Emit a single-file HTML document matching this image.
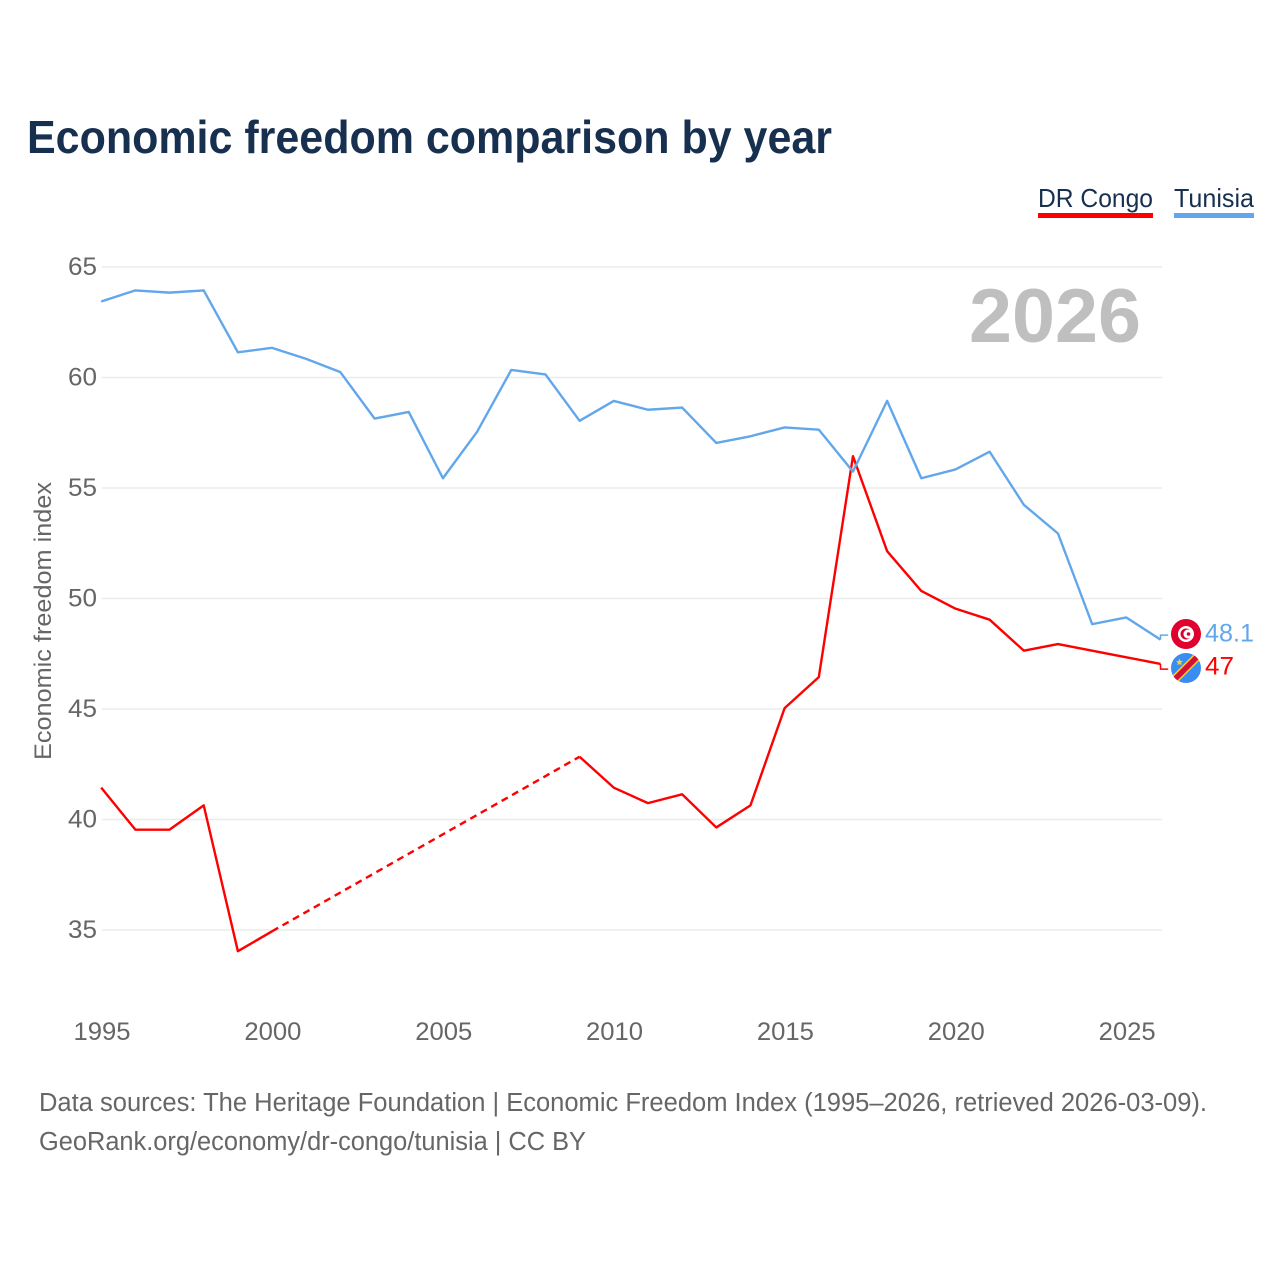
<!DOCTYPE html>
<html>
<head>
<meta charset="utf-8">
<style>
html,body{margin:0;padding:0;background:#fff;width:1280px;height:1280px;overflow:hidden}
svg{display:block}
text{font-family:"Liberation Sans",sans-serif}
</style>
</head>
<body>
<svg id="chart" width="1280" height="1280" viewBox="0 0 1280 1280" xmlns="http://www.w3.org/2000/svg">
  <rect width="1280" height="1280" fill="#fff"/>
  <text x="27" y="153" font-size="46" font-weight="700" fill="#18304f" textLength="805" lengthAdjust="spacingAndGlyphs">Economic freedom comparison by year</text>
  <g>
    <text x="1038" y="207" font-size="26" fill="#18304f" textLength="115" lengthAdjust="spacingAndGlyphs">DR Congo</text>
    <rect x="1038" y="213" width="115" height="5" fill="#ff0000"/>
  </g>
  <g>
    <text x="1174" y="207" font-size="26" fill="#18304f" textLength="80" lengthAdjust="spacingAndGlyphs">Tunisia</text>
    <rect x="1174" y="213" width="80" height="5" fill="#62a6ec"/>
  </g>
  <text x="1141" y="342" text-anchor="end" font-size="76" font-weight="700" fill="#bfbfbf" textLength="172" lengthAdjust="spacingAndGlyphs">2026</text>
  <text transform="translate(51,621) rotate(-90)" text-anchor="middle" font-size="24.5" fill="#666" textLength="278" lengthAdjust="spacingAndGlyphs">Economic freedom index</text>
  <g id="grid"></g>
  <g id="yticks"></g>
  <g id="xticks"></g>
  <g id="series" transform="translate(-0.8,-0.9)"></g>
  <g>
    <circle cx="1186" cy="634" r="15" fill="#e0002d"/>
    <circle cx="1186" cy="634" r="8" fill="#fff"/>
    <circle cx="1186" cy="634" r="5.5" fill="#e0002d"/>
    <circle cx="1188" cy="634" r="4.5" fill="#fff"/>
    <circle cx="1188.5" cy="634" r="1.8" fill="#e0002d"/>
  </g>
  <g>
    <defs><clipPath id="cdclip"><circle cx="1186" cy="668" r="15"/></clipPath></defs>
    <circle cx="1186" cy="668" r="15" fill="#3a8cf0"/>
    <g clip-path="url(#cdclip)">
      <line x1="1166" y1="688" x2="1206" y2="648" stroke="#f5d130" stroke-width="8.5"/>
      <line x1="1166" y1="688" x2="1206" y2="648" stroke="#d21034" stroke-width="5.5"/>
    </g>
    <polygon points="1179.5,658.5 1180.5,660.9 1183,661.1 1181.1,662.8 1181.7,665.3 1179.5,664 1177.3,665.3 1177.9,662.8 1176,661.1 1178.5,660.9" fill="#f5d130"/>
  </g>
  <text x="1205" y="641.5" font-size="25" fill="#62a6ec" textLength="49" lengthAdjust="spacingAndGlyphs">48.1</text>
  <text x="1205" y="674.5" font-size="25" fill="#ff0000" textLength="29" lengthAdjust="spacingAndGlyphs">47</text>
  <text x="39" y="1111" font-size="25.5" fill="#666" textLength="1168" lengthAdjust="spacingAndGlyphs">Data sources: The Heritage Foundation | Economic Freedom Index (1995–2026, retrieved 2026-03-09).</text>
  <text x="39" y="1150" font-size="25.5" fill="#666" textLength="547" lengthAdjust="spacingAndGlyphs">GeoRank.org/economy/dr-congo/tunisia | CC BY</text>
</svg>
<script>
const years = [1995,1996,1997,1998,1999,2000,2001,2002,2003,2004,2005,2006,2007,2008,2009,2010,2011,2012,2013,2014,2015,2016,2017,2018,2019,2020,2021,2022,2023,2024,2025,2026];
const tunisiaValues = [63.4,63.9,63.8,63.9,61.1,61.3,60.8,60.2,58.1,58.4,55.4,57.5,60.3,60.1,58.0,58.9,58.5,58.6,57.0,57.3,57.7,57.6,55.7,58.9,55.4,55.8,56.6,54.2,52.9,48.8,49.1,48.1];
const drCongoValues = [41.4,39.5,39.5,40.6,34.0,34.9,null,null,null,null,null,null,null,null,42.8,41.4,40.7,41.1,39.6,40.6,45.0,46.4,56.4,52.1,50.3,49.5,49.0,47.6,47.9,47.6,47.3,47.0];
const yTickLabels = [35,40,45,50,55,60,65];
const xTickLabels = [1995,2000,2005,2010,2015,2020,2025];

const NS = 'http://www.w3.org/2000/svg';
function xScale(year){ return 102 + (year - 1995) * (1161.3 - 102) / 31; }
function yScale(v){ return 267 + (65 - v) * (930 - 267) / 30; }
function make(tag, attrs, parent){
  const el = document.createElementNS(NS, tag);
  for (const k in attrs) el.setAttribute(k, attrs[k]);
  parent.appendChild(el);
  return el;
}
const grid = document.getElementById('grid');
const yticks = document.getElementById('yticks');
const xticks = document.getElementById('xticks');
const series = document.getElementById('series');

yTickLabels.forEach(function(t){
  const line = make('line', {x1:102, x2:1162, y1:yScale(t), y2:yScale(t), stroke:'#ebebeb', 'stroke-width':1.5}, grid);
  
  
  const label = make('text', {x:97, y:yScale(t)+8, 'text-anchor':'end', 'font-size':25, fill:'#666'}, yticks);
  
  
  label.setAttribute('textLength', 29);
  label.setAttribute('lengthAdjust', 'spacingAndGlyphs');
  label.textContent = t;
});
xTickLabels.forEach(function(t){
  const label = make('text', {x:xScale(t), y:1040, 'text-anchor':'middle', 'font-size':25, fill:'#666'}, xticks);
  
  
  label.setAttribute('textLength', 57);
  label.setAttribute('lengthAdjust', 'spacingAndGlyphs');
  label.textContent = t;
});

function drawSeries(values, color, name){
  let run = [];
  let last = null;
  function flush(){
    if (run.length > 1) {
      const p = make('polyline', {points: run.join(' '), fill:'none', stroke:color, 'stroke-width':2.4, 'stroke-linejoin':'round'}, series);
      
      
    }
    run = [];
  }
  values.forEach(function(v, i){
    if (v === null) { flush(); return; }
    const pt = [xScale(years[i]), yScale(v)];
    if (last !== null && last.i !== i - 1) {
      const d = make('line', {x1:last.pt[0], y1:last.pt[1], x2:pt[0], y2:pt[1], stroke:color, 'stroke-width':2.4, 'stroke-dasharray':'7 5'}, series);
      
      
    }
    run.push(pt[0] + ',' + pt[1]);
    last = {i: i, pt: pt};
  });
  flush();
  return last.pt;
}
function drawConnector(end, labelY, color, name){
  const c = make('polyline', {points: end[0] + ',' + end[1] + ' ' + end[0] + ',' + labelY + ' 1169,' + labelY, fill:'none', stroke:color, 'stroke-width':1.5}, series);
  
  
}
const endDr = drawSeries(drCongoValues, '#ff0000', 'dr-congo');
const endTn = drawSeries(tunisiaValues, '#62a6ec', 'tunisia');
drawConnector(endTn, 636, '#62a6ec', 'tunisia');
drawConnector(endDr, 670, '#ff0000', 'dr-congo');
</script>
</body>
</html>
